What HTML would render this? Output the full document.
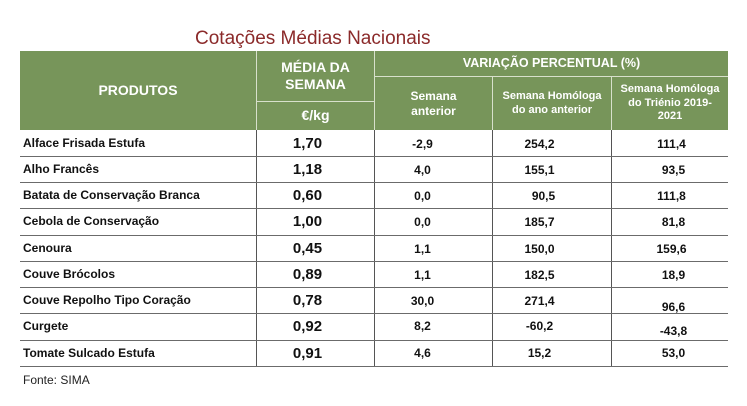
<!DOCTYPE html>
<html><head><meta charset="utf-8"><style>
body{margin:0;width:747px;height:406px;background:#fff;position:relative;font-family:"Liberation Sans",sans-serif;overflow:hidden}
.a{position:absolute}
.t{position:absolute;left:195px;top:28px;font-size:19px;color:#8b2a2a;letter-spacing:0px}
.g{position:absolute;background:#77955a}
.h{position:absolute;color:#fff;font-weight:bold;text-align:center;display:flex;align-items:center;justify-content:center;line-height:1.25}
.hl{position:absolute;height:1px;background:#6b6b6b;left:20px;width:708px}
.vl{position:absolute;width:1px;background:#555;top:130px;height:236px}
.wl{position:absolute;background:#d8e0cc}
.r{position:absolute;font-weight:bold;font-size:12px;color:#111}
.m{position:absolute;font-weight:bold;font-size:15px;color:#111;width:117px;text-align:center}
.c{position:absolute;font-weight:bold;font-size:12px;color:#111;text-align:center;width:119px}
</style></head><body>
<div class="t">Cotações Médias Nacionais</div>
<div class="g" style="left:20px;top:51px;width:708px;height:79px"></div>
<div class="wl" style="left:256px;top:51px;width:1px;height:79px"></div>
<div class="wl" style="left:374px;top:51px;width:1px;height:79px"></div>
<div class="wl" style="left:374px;top:76px;width:354px;height:1px"></div>
<div class="wl" style="left:256px;top:101px;width:118px;height:1px"></div>
<div class="wl" style="left:492px;top:77px;width:1px;height:53px"></div>
<div class="wl" style="left:611px;top:77px;width:1px;height:53px"></div>
<div class="h" style="left:20px;top:51px;width:236px;height:79px;font-size:14px">PRODUTOS</div>
<div class="h" style="left:257px;top:52px;width:117px;height:48px;font-size:14px">MÉDIA DA<br>SEMANA</div>
<div class="h" style="left:257px;top:102px;width:117px;height:28px;font-size:14px">€/kg</div>
<div class="h" style="left:375px;top:51px;width:353px;height:25px;font-size:12.5px">VARIAÇÃO PERCENTUAL (%)</div>
<div class="h" style="left:375px;top:77px;width:117px;height:53px;font-size:12px">Semana<br>anterior</div>
<div class="h" style="left:493px;top:77px;width:118px;height:53px;font-size:11px">Semana Homóloga<br>do ano anterior</div>
<div class="h" style="left:612px;top:77px;width:116px;height:53px;font-size:11px">Semana Homóloga<br>do Triénio 2019-<br>2021</div>
<div class="vl" style="left:256px"></div><div class="vl" style="left:374px"></div>
<div class="vl" style="left:492px"></div><div class="vl" style="left:611px"></div>
<div class="hl" style="top:156px"></div><div class="hl" style="top:182px"></div>
<div class="hl" style="top:208px"></div><div class="hl" style="top:235px"></div>
<div class="hl" style="top:261px"></div><div class="hl" style="top:287px"></div>
<div class="hl" style="top:313px"></div><div class="hl" style="top:340px"></div>
<div class="hl" style="top:366px"></div>

<div class="r" style="left:23px;top:136px">Alface Frisada Estufa</div>
<div class="r" style="left:23px;top:162px">Alho Francês</div>
<div class="r" style="left:23px;top:188px">Batata de Conservação Branca</div>
<div class="r" style="left:23px;top:214px">Cebola de Conservação</div>
<div class="r" style="left:23px;top:241px">Cenoura</div>
<div class="r" style="left:23px;top:267px">Couve Brócolos</div>
<div class="r" style="left:23px;top:293px">Couve Repolho Tipo Coração</div>
<div class="r" style="left:23px;top:319px">Curgete</div>
<div class="r" style="left:23px;top:346px">Tomate Sulcado Estufa</div>

<div class="m" style="left:249px;top:135px">1,70</div>
<div class="m" style="left:249px;top:161px">1,18</div>
<div class="m" style="left:249px;top:187px">0,60</div>
<div class="m" style="left:249px;top:213px">1,00</div>
<div class="m" style="left:249px;top:240px">0,45</div>
<div class="m" style="left:249px;top:266px">0,89</div>
<div class="m" style="left:249px;top:292px">0,78</div>
<div class="m" style="left:249px;top:318px">0,92</div>
<div class="m" style="left:249px;top:345px">0,91</div>

<div class="c" style="left:363px;top:137px">-2,9</div><div class="c" style="left:480px;top:137px">254,2</div><div class="c" style="left:612px;top:137px">111,4</div>
<div class="c" style="left:363px;top:163px">4,0</div><div class="c" style="left:480px;top:163px">155,1</div><div class="c" style="left:614px;top:163px">93,5</div>
<div class="c" style="left:363px;top:189px">0,0</div><div class="c" style="left:484px;top:189px">90,5</div><div class="c" style="left:612px;top:189px">111,8</div>
<div class="c" style="left:363px;top:215px">0,0</div><div class="c" style="left:480px;top:215px">185,7</div><div class="c" style="left:614px;top:215px">81,8</div>
<div class="c" style="left:363px;top:242px">1,1</div><div class="c" style="left:480px;top:242px">150,0</div><div class="c" style="left:612px;top:242px">159,6</div>
<div class="c" style="left:363px;top:268px">1,1</div><div class="c" style="left:480px;top:268px">182,5</div><div class="c" style="left:614px;top:268px">18,9</div>
<div class="c" style="left:363px;top:294px">30,0</div><div class="c" style="left:480px;top:294px">271,4</div><div class="c" style="left:614px;top:300px">96,6</div>
<div class="c" style="left:363px;top:319px">8,2</div><div class="c" style="left:480px;top:319px">-60,2</div><div class="c" style="left:614px;top:324px">-43,8</div>
<div class="c" style="left:363px;top:346px">4,6</div><div class="c" style="left:480px;top:346px">15,2</div><div class="c" style="left:614px;top:346px">53,0</div>

<div class="a" style="left:23px;top:373px;font-size:12px;color:#222">Fonte: SIMA</div>
</body></html>
